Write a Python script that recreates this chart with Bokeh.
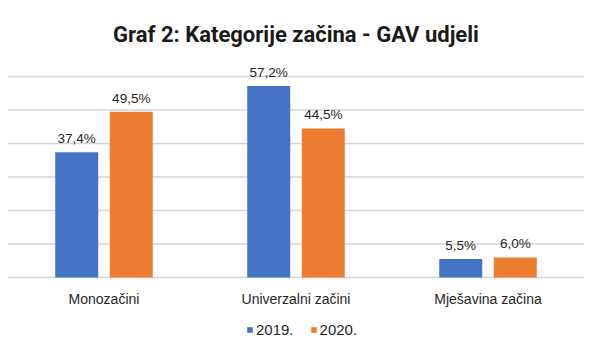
from bokeh.plotting import figure
from bokeh.models import ColumnDataSource, FactorRange, Range1d, Label, Legend, LegendItem
from bokeh.transform import dodge
from bokeh.core.properties import value
from bokeh.embed import file_html
from bokeh.resources import INLINE

categories = ["Monozačini", "Univerzalni začini", "Mješavina začina"]
series_names = ["2019.", "2020."]
values_2019 = [37.4, 57.2, 5.5]
values_2020 = [49.5, 44.5, 6.0]
y_ticks = [0, 10, 20, 30, 40, 50, 60]
title_text = "Graf 2: Kategorije začina - GAV udjeli"

BLUE = "#4472C4"
ORANGE = "#ED7D31"
FONT = "'Liberation Sans', Arial, sans-serif"
TFONT = "Roboto, sans-serif"

def fmt(v):
    return f"{v:.1f}%".replace(".", ",")

src = ColumnDataSource(dict(
    cat=categories,
    v19=values_2019,
    v20=values_2020,
    t19=[fmt(v) for v in values_2019],
    t20=[fmt(v) for v in values_2020],
    base=[0] * len(categories),
))
grid_src = ColumnDataSource(dict(
    y=y_ticks,
    left=[categories[0]] * len(y_ticks),
    right=[categories[-1]] * len(y_ticks),
))

W, H = 591, 356
px_per = 201 / 60.0
p = figure(width=W, height=H, output_backend="svg", toolbar_location=None,
           x_range=FactorRange(*categories, range_padding=0.039, range_padding_units="absolute"),
           y_range=Range1d(-79 / px_per, 60 + 76 / px_per),
           min_border=0)
p.outline_line_color = None
p.background_fill_color = "white"
p.border_fill_color = "white"
p.axis.visible = False
p.grid.visible = False

p.segment(x0=dodge("left", -0.5, range=p.x_range), x1=dodge("right", 0.5, range=p.x_range),
          y0="y", y1="y", source=grid_src, line_color="#d4d4d4", line_width=1.5)

off = 0.142
w = 0.224
r1 = p.vbar(x=dodge("cat", -off, range=p.x_range), top="v19", width=w, source=src,
            fill_color=BLUE, line_color=None)
r2 = p.vbar(x=dodge("cat", off, range=p.x_range), top="v20", width=w, source=src,
            fill_color=ORANGE, line_color=None)

for col, yk, d in (("t19", "v19", -off), ("t20", "v20", off)):
    p.text(x=dodge("cat", d, range=p.x_range), y=yk, text=col, source=src,
           text_align="center", text_baseline="bottom", y_offset=-6,
           text_font=value(FONT), text_font_size="13.5px", text_color="#262626")

p.text(x="cat", y="base", text="cat", source=src, text_align="center", text_baseline="top",
       y_offset=13, text_font=value(FONT), text_font_size="14px", text_color="#262626")

legend = Legend(items=[LegendItem(label=series_names[0], renderers=[r1]),
                       LegendItem(label=series_names[1], renderers=[r2])],
                orientation="horizontal", location=(246, 18),
                label_text_font=FONT, label_text_font_size="15px", label_text_color="#262626",
                glyph_width=7, glyph_height=7, spacing=16, label_standoff=3,
                padding=0, margin=0, border_line_color=None, background_fill_alpha=0)
p.add_layout(legend, "center")

title = Label(x=W / 2, y=H - 34, x_units="screen", y_units="screen", text=title_text,
              text_align="center", text_baseline="alphabetic",
              text_font=TFONT, text_font_style="bold", text_font_size="22px",
              text_color="#1a1a1a")
p.add_layout(title)

open("out.html", "w").write(file_html(p, INLINE))
